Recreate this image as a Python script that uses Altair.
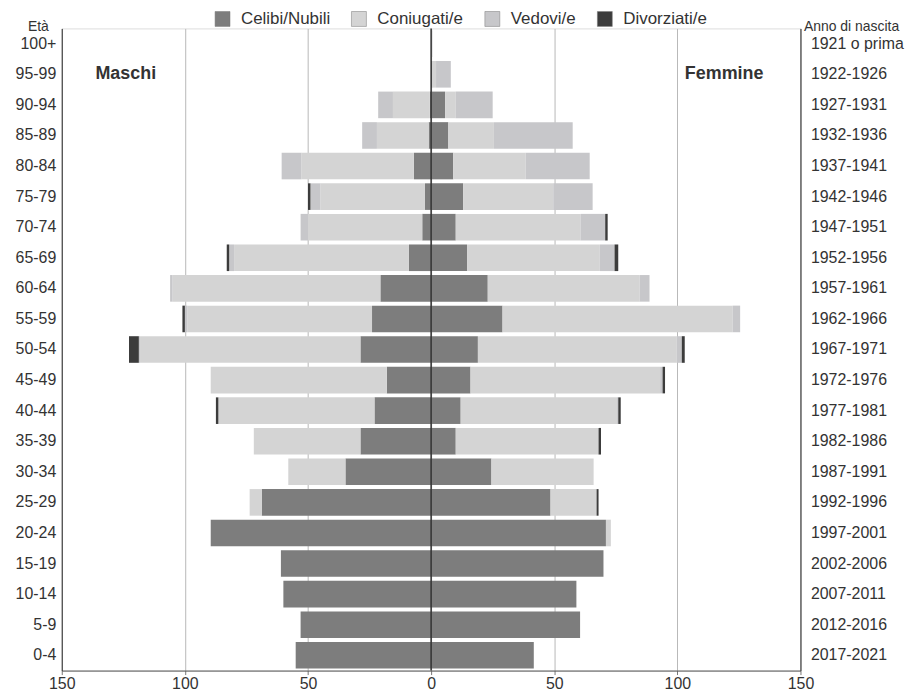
import altair as alt
import pandas as pd

# Età (dall'alto in basso) e anni di nascita corrispondenti
eta = ["100+", "95-99", "90-94", "85-89", "80-84", "75-79", "70-74", "65-69",
       "60-64", "55-59", "50-54", "45-49", "40-44", "35-39", "30-34", "25-29",
       "20-24", "15-19", "10-14", "5-9", "0-4"]
anni = ["1921 o prima", "1922-1926", "1927-1931", "1932-1936", "1937-1941",
        "1942-1946", "1947-1951", "1952-1956", "1957-1961", "1962-1966",
        "1967-1971", "1972-1976", "1977-1981", "1982-1986", "1987-1991",
        "1992-1996", "1997-2001", "2002-2006", "2007-2011", "2012-2016",
        "2017-2021"]

stati = ["Celibi/Nubili", "Coniugati/e", "Vedovi/e", "Divorziati/e"]
colori = ["#7d7d7d", "#d4d4d4", "#c7c7ca", "#3c3c3c"]

# Maschi
m_celibi = [0, 0, 0.5, 1, 7, 2.5, 3.6, 9, 20.6, 24, 28.7, 18, 23, 28.7, 34.8, 68.8, 89.5, 61, 60, 53, 55]
m_coniugati = [0, 0, 15, 21, 45.7, 42.5, 46.4, 71, 84.4, 75, 89.5, 71.5, 63.4, 43.3, 23.2, 4.9, 0, 0, 0, 0, 0]
m_vedovi = [0, 0, 6, 6, 8, 4, 3, 2, 1, 1, 0.5, 0, 0, 0, 0, 0, 0, 0, 0, 0, 0]
m_divorziati = [0, 0, 0, 0, 0, 1, 0, 1, 0, 1, 4, 0, 1, 0, 0, 0, 0, 0, 0, 0, 0]

# Femmine
f_nubili = [0, 0.5, 5.7, 7, 9, 13, 10, 14.6, 23, 29, 19, 16, 12, 10, 24.5, 48.5, 71, 70, 59, 60.5, 41.7]
f_coniugate = [0, 1.5, 4.3, 18.5, 29.4, 36.6, 50.7, 53.9, 61.7, 93.5, 80.8, 77, 63.5, 58, 41.5, 18.7, 2, 0, 0, 0, 0]
f_vedove = [0.5, 6, 15, 32, 26, 16, 10, 6, 4, 3, 2, 1, 0.5, 0, 0, 0, 0, 0, 0, 0, 0]
f_divorziate = [0, 0, 0, 0, 0, 0, 1, 1.5, 0, 0, 1.2, 1, 1, 1, 0, 0.8, 0, 0, 0, 0, 0]

lati = ["Maschi", "Femmine"]

rows = []
serie_m = [m_celibi, m_coniugati, m_vedovi, m_divorziati]
serie_f = [f_nubili, f_coniugate, f_vedove, f_divorziate]
for k, stato in enumerate(stati):
    for i, e in enumerate(eta):
        rows.append({"eta": e, "anno": anni[i], "sesso": lati[0], "stato": stato,
                     "ordine": k, "valore": -serie_m[k][i]})
        rows.append({"eta": e, "anno": anni[i], "sesso": lati[1], "stato": stato,
                     "ordine": k, "valore": serie_f[k][i]})
df = pd.DataFrame(rows)
df_anni = pd.DataFrame({"anno": anni})
df_m = pd.DataFrame({"lato": [lati[0]]})
df_f = pd.DataFrame({"lato": [lati[1]]})
df_zero = pd.DataFrame({"v": [0]})

FONT = "Liberation Sans"
TXT = "#333333"
ysc = alt.Scale(paddingInner=0.13, paddingOuter=0.065)
xsc = alt.Scale(domain=[-150, 150], nice=False, zero=False)

x_enc = alt.X(
    "valore:Q", stack="zero", scale=xsc, title=None,
    axis=alt.Axis(values=[-150, -100, -50, 0, 50, 100, 150],
                  labelExpr="abs(datum.value)", grid=True, gridColor="#b8b8b8",
                  gridWidth=1, labelFontSize=16, labelColor=TXT,
                  labelFont=FONT, tickSize=4, tickColor="#777777",
                  domainColor="#555555", labelPadding=1, labelFlush=False),
)

bars = alt.Chart(df).mark_bar().encode(
    x=x_enc,
    y=alt.Y("eta:N", sort=eta, scale=ysc, title="Età",
            axis=alt.Axis(orient="left", ticks=False, labelFontSize=16,
                          labelColor=TXT, labelFont=FONT, labelPadding=6,
                          domainColor="#333333", titleAngle=0, titleAlign="center",
                          titleBaseline="bottom", titleX=-24, titleY=5,
                          titleFontSize=14, titleFontWeight="normal",
                          titleFont=FONT, titleColor=TXT)),
    color=alt.Color("stato:N", sort=stati,
                    scale=alt.Scale(domain=stati, range=colori),
                    legend=alt.Legend(title=None, orient="none", direction="horizontal",
                                      legendX=153, legendY=-18, symbolType="square",
                                      symbolSize=225, symbolStrokeColor="#777777",
                                      symbolStrokeWidth=0.5, labelFontSize=17,
                                      labelFont=FONT, labelColor=TXT,
                                      columnPadding=20, labelOffset=10)),
    order=alt.Order("ordine:Q"),
)

centro = alt.Chart(df_zero).mark_rule(color="#333333", strokeWidth=1.5).encode(
    x=alt.X("v:Q", scale=xsc)
)

etichetta_m = alt.Chart(df_m).mark_text(fontWeight="bold", fontSize=18, font=FONT,
                                        color=TXT).encode(
    x=alt.datum(-124), y=alt.datum("95-99"), text="lato:N"
)
etichetta_f = alt.Chart(df_f).mark_text(fontWeight="bold", fontSize=18, font=FONT,
                                        color=TXT).encode(
    x=alt.datum(119), y=alt.datum("95-99"), text="lato:N"
)

destra = alt.Chart(df_anni).mark_bar(opacity=0).encode(
    y=alt.Y("anno:N", sort=anni, scale=ysc, title="Anno di nascita",
            axis=alt.Axis(orient="right", ticks=False, labelFontSize=16,
                          labelColor=TXT, labelFont=FONT, labelPadding=10,
                          domainColor="#333333", titleAngle=0, titleAlign="left",
                          titleBaseline="bottom", titleX=3, titleY=5,
                          titleFontSize=14, titleFontWeight="normal",
                          titleFont=FONT, titleColor=TXT)),
)

interno = alt.layer(bars, centro, etichetta_m, etichetta_f)
chart = alt.layer(interno, destra).resolve_scale(y="independent").properties(
    width=742, height=645,
    autosize=alt.AutoSizeParams(type="none"),
    padding={"left": 54, "top": 19, "right": 105, "bottom": 22},
).configure_view(stroke=None).configure(font=FONT)

chart.save("out.html", embed_options={"renderer": "svg", "actions": False})
